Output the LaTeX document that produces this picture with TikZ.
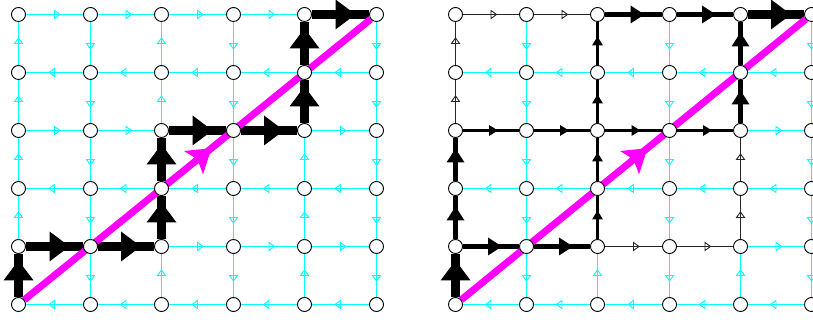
\documentclass[tikz,border=0pt]{standalone}
\usetikzlibrary{decorations.markings,backgrounds}
\definecolor{cyn}{RGB}{0,255,255}
\definecolor{mgt}{RGB}{255,0,255}
\tikzset{
  nd/.style={circle,draw=black,fill=white,minimum size=14pt,inner sep=0pt,line width=0.9pt},
  harrow/.style n args={4}{postaction={decorate,decoration={markings,
      mark=at position 0.5 with {\path[#1] (#2pt,#4pt) -- (#3pt,0pt) -- (#2pt,-#4pt) -- cycle;}}}},
  cy/.style={draw=cyn,line width=1.4pt,harrow={draw=cyn,line width=0.9pt}{0}{5.5}{4}},
  tn/.style={draw=black!85,line width=1.3pt,harrow={draw=black!85,line width=0.9pt}{0}{5.5}{4}},
  md/.style={draw=black,line width=2.7pt,harrow={fill=black}{-2}{7}{5.5}},
  tk/.style={draw=black,line width=5pt,harrow={fill=black}{-3}{11}{9}},
  vt/.style={draw=black,line width=9pt,harrow={fill=black}{-5}{15}{15}},
  mg/.style={draw=mgt,line width=7pt,postaction={decorate,decoration={markings,
      mark=at position 0.5 with {\fill[mgt] (18pt,0pt) -- (-5pt,15pt) -- (0pt,0pt) -- (-5pt,-15pt) -- cycle;}}}}
}
\newcommand\gedge[5]{% style, grid, h/v, column, row
  \pgfmathtruncatemacro\gjn{#4+1}\pgfmathtruncatemacro\grn{#5+1}%
  \if h#3%
    \ifodd#5\relax \draw[#1] (#2-#4-#5) -- (#2-\gjn-#5);\else \draw[#1] (#2-\gjn-#5) -- (#2-#4-#5);\fi
  \else
    \ifodd#4\relax \draw[#1] (#2-#4-\grn) -- (#2-#4-#5);\else \draw[#1] (#2-#4-#5) -- (#2-#4-\grn);\fi
  \fi}
\newcommand\spedge[5]{\expandafter\def\csname sk-#2-#3-#4-#5\endcsname{}\gedge{#1}{#2}{#3}{#4}{#5}}
\begin{document}
\begin{tikzpicture}[x=1pt,y=1pt]
\useasboundingbox (0,0) rectangle (813,320);
\foreach \j/\xl/\xr in {0/18.5/455.5,1/90.5/526.5,2/161.5/597.5,3/233.5/669.5,4/304.5/740.5,5/376.5/811.5}{
 \foreach \r/\yy in {0/15.5,1/73.5,2/131.5,3/189.5,4/247.5,5/305.5}{
  \node[nd] (L-\j-\r) at (\xl,\yy) {};
  \node[nd] (R-\j-\r) at (\xr,\yy) {};
}}
\begin{pgfonlayer}{background}
% left grid: highlighted path
\spedge{vt}{L}{v}{0}{0}
\spedge{vt}{L}{h}{0}{1}
\spedge{vt}{L}{h}{1}{1}
\spedge{vt}{L}{v}{2}{1}
\spedge{vt}{L}{v}{2}{2}
\spedge{vt}{L}{h}{2}{3}
\spedge{vt}{L}{h}{3}{3}
\spedge{vt}{L}{v}{4}{3}
\spedge{vt}{L}{v}{4}{4}
\spedge{vt}{L}{h}{4}{5}
% right grid: flow
\spedge{vt}{R}{v}{0}{0}
\spedge{vt}{R}{h}{4}{5}
\spedge{tk}{R}{h}{0}{1}
\spedge{tk}{R}{h}{1}{1}
\spedge{tk}{R}{v}{0}{1}
\spedge{tk}{R}{v}{0}{2}
\spedge{tk}{R}{h}{2}{5}
\spedge{tk}{R}{h}{3}{5}
\spedge{tk}{R}{v}{4}{3}
\spedge{tk}{R}{v}{4}{4}
\spedge{md}{R}{h}{0}{3}
\spedge{md}{R}{h}{1}{3}
\spedge{md}{R}{h}{2}{3}
\spedge{md}{R}{h}{3}{3}
\spedge{md}{R}{v}{2}{1}
\spedge{md}{R}{v}{2}{2}
\spedge{md}{R}{v}{2}{3}
\spedge{md}{R}{v}{2}{4}
\spedge{tn}{R}{v}{0}{3}
\spedge{tn}{R}{v}{0}{4}
\spedge{tn}{R}{h}{0}{5}
\spedge{tn}{R}{h}{1}{5}
\spedge{tn}{R}{h}{2}{1}
\spedge{tn}{R}{h}{3}{1}
\spedge{tn}{R}{v}{4}{1}
\spedge{tn}{R}{v}{4}{2}
% remaining edges in cyan
\foreach \g in {L,R}{\foreach \r in {0,...,5}{\foreach \j in {0,...,4}{
  \ifcsname sk-\g-h-\j-\r\endcsname\else\gedge{cy}{\g}{h}{\j}{\r}\fi
  \ifcsname sk-\g-v-\r-\j\endcsname\else\gedge{cy}{\g}{v}{\r}{\j}\fi
}}}
\draw[mg] (L-0-0) -- (L-5-5);
\draw[mg] (R-0-0) -- (R-5-5);
\end{pgfonlayer}
\end{tikzpicture}
\end{document}
